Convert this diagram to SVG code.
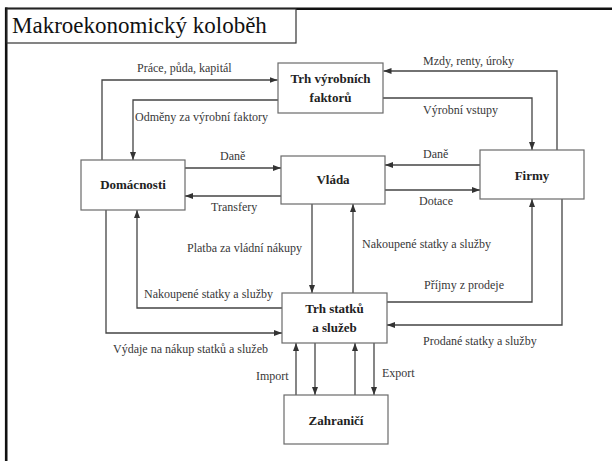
<svg xmlns="http://www.w3.org/2000/svg" width="612" height="461" viewBox="0 0 612 461">
<style>
text{font-family:"Liberation Serif","Times New Roman",serif}
.frame{stroke:#111;fill:none}
.box{fill:#fff;stroke:#6a6a6a;stroke-width:1.2}
.node{font-weight:bold;font-size:13px;fill:#222;text-anchor:middle}
.lbl{font-size:12px;fill:#383838}
.conn path{fill:none;stroke:#444;stroke-width:1.3;marker-end:url(#ah)}
</style>
<defs>
<marker id="ah" markerUnits="userSpaceOnUse" markerWidth="9" markerHeight="7" refX="8" refY="3" orient="auto">
<path d="M0,0 L8,3 L0,6 z" fill="#333"/>
</marker>
</defs>
<rect width="612" height="461" fill="#fff"/>
<line class="frame" x1="5" y1="8.7" x2="612" y2="8.7" stroke-width="2.6"/>
<line class="frame" x1="6.2" y1="7.5" x2="6.2" y2="461" stroke-width="2.6"/>
<g id="title">
<rect x="7" y="9" width="289" height="34" fill="#fff" stroke="#333" stroke-width="1.2"/>
<text x="12" y="33" font-size="23" fill="#111">Makroekonomický koloběh</text>
</g>
<g class="conn" id="connectors">
<path d="M102,160 V80 H277.5"/>
<path d="M278,100 H133 V160"/>
<path d="M557,150 V71 H383.5"/>
<path d="M383,98 H532 V150"/>
<path d="M185,168 H281"/>
<path d="M281,196 H185"/>
<path d="M480,165 H385"/>
<path d="M385,190 H480"/>
<path d="M312,204 V293"/>
<path d="M353,293 V204"/>
<path d="M282,308 H137 V210"/>
<path d="M106,210 V333 H282"/>
<path d="M387,302 H532 V199"/>
<path d="M562,199 V325 H387"/>
<path d="M296,395 V343"/>
<path d="M315,343 V395"/>
<path d="M355,395 V343"/>
<path d="M374,343 V395"/>
</g>
<g id="labels">
<text class="lbl" x="137" y="72">Práce, půda, kapitál</text>
<text class="lbl" x="135" y="121">Odměny za výrobní faktory</text>
<text class="lbl" x="423" y="65">Mzdy, renty, úroky</text>
<text class="lbl" x="423" y="114">Výrobní vstupy</text>
<text class="lbl" x="220" y="160">Daně</text>
<text class="lbl" x="211" y="211">Transfery</text>
<text class="lbl" x="423" y="158">Daně</text>
<text class="lbl" x="419" y="205">Dotace</text>
<text class="lbl" x="187" y="252">Platba za vládní nákupy</text>
<text class="lbl" x="362" y="248">Nakoupené statky a služby</text>
<text class="lbl" x="144" y="298">Nakoupené statky a služby</text>
<text class="lbl" x="113" y="353">Výdaje na nákup statků a služeb</text>
<text class="lbl" x="424" y="289">Příjmy z prodeje</text>
<text class="lbl" x="423" y="345">Prodané statky a služby</text>
<text class="lbl" x="256" y="380">Import</text>
<text class="lbl" x="382" y="377">Export</text>
</g>
<g id="trh-vyrobnich-faktoru">
<rect class="box" x="278" y="63" width="105" height="50"/>
<text class="node" x="330.5" y="83">Trh výrobních</text>
<text class="node" x="330.5" y="102">faktorů</text>
</g>
<g id="domacnosti">
<rect class="box" x="81" y="160" width="104" height="50"/>
<text class="node" x="133" y="189">Domácnosti</text>
</g>
<g id="vlada">
<rect class="box" x="281" y="156" width="104" height="48"/>
<text class="node" x="333" y="184">Vláda</text>
</g>
<g id="firmy">
<rect class="box" x="480" y="150" width="104" height="49"/>
<text class="node" x="532" y="180">Firmy</text>
</g>
<g id="trh-statku-a-sluzeb">
<rect class="box" x="282" y="293" width="105" height="50"/>
<text class="node" x="334.5" y="313">Trh statků</text>
<text class="node" x="334.5" y="332">a služeb</text>
</g>
<g id="zahranici">
<rect class="box" x="284" y="395" width="104" height="49"/>
<text class="node" x="336" y="425">Zahraničí</text>
</g>
</svg>
